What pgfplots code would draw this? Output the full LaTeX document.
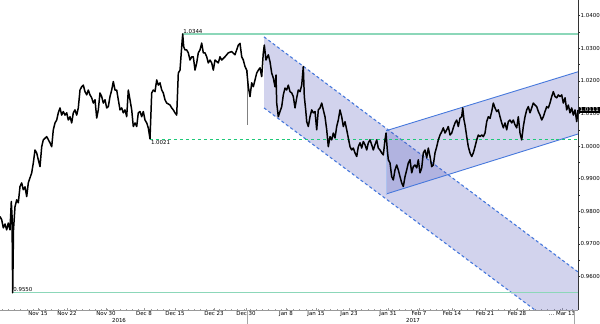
\documentclass[border=0pt]{standalone}
\usepackage{pgfplots}
\pgfplotsset{compat=1.18}
\usepackage{fontspec}
\setmainfont{DejaVu Sans}
\definecolor{mint}{RGB}{140,215,185}
\definecolor{mintd}{RGB}{30,200,120}
\definecolor{chan}{RGB}{70,120,220}
\definecolor{chanfill}{RGB}{82,86,186}
\newcommand\tf{\fontsize{5.5}{6}\selectfont}
\begin{document}
\begin{tikzpicture}[x=1bp,y=1bp]
\begin{axis}[
  scale only axis, width=578bp, height=310bp,
  at={(0,0)}, anchor=south west,
  xmin=0, xmax=578, ymin=0.9497, ymax=1.0448,
  clip=false,
  axis x line*=bottom, axis y line*=right,
  x axis line style={gray!80, line width=0.5pt},
  y axis line style={black!80, line width=0.7pt},
  xtick align=inside, ytick align=outside,
  major tick length=2pt, minor tick length=1.5pt,
  xtick style={gray!80, line width=0.4pt},
  ytick style={black!80, line width=0.4pt},
  xtick={38,67,106,144,175,214,246,286,316,349,388,419,452,485,517,562},
  xticklabels={Nov 15,Nov 22,Nov 30,Dec 8,Dec 15,Dec 23,Dec 30,Jan 8,Jan 15,Jan 23,Jan 31,Feb 7,Feb 14,Feb 21,Feb 28,{\dots\ Mar 13}},
  minor xtick={2,8.2,...,578},
  xticklabel style={font=\tf, inner sep=0.5pt, yshift=-0.5bp},
  ytick={0.96,0.97,0.98,0.99,1.00,1.01,1.02,1.03,1.04},
  minor y tick num=1,
  yticklabel style={font=\tf, inner sep=0.5pt,
    /pgf/number format/.cd, fixed, fixed zerofill, precision=4, assume math mode=true},
  scaled y ticks=false,
]
% descending channel
\addplot[draw=none, fill=chanfill, fill opacity=0.26] coordinates {
 (264,1.0335) (578,0.9614) (578,0.9497) (535,0.9497) (264,1.0117)} -- cycle;
\addplot[draw=chan, line width=1.1pt, dash pattern=on 3pt off 2.5pt] coordinates {(264,1.0335) (578,0.9614)};
\addplot[draw=chan, line width=1.1pt, dash pattern=on 3pt off 2.5pt] coordinates {(264,1.0117) (535,0.9497)};
% ascending channel
\addplot[draw=none, fill=chanfill, fill opacity=0.26] coordinates {
 (386,1.0047) (578,1.0228) (578,1.0037) (386,0.9853)} -- cycle;
\addplot[draw=chan, line width=0.9pt] coordinates {(386,1.0047) (578,1.0228)};
\addplot[draw=chan, line width=0.9pt] coordinates {(386,0.9853) (578,1.0037)};
\addplot[draw=chan!45, line width=0.4pt] coordinates {(386,0.9853) (386,1.0047)};
% horizontal levels
\addplot[draw=mint, line width=1.2pt] coordinates {(183,1.0344) (578,1.0344)};
\addplot[draw=mint, line width=1.2pt] coordinates {(12.5,0.9550) (578,0.9550)};
\addplot[draw=mintd, line width=1.3pt, dash pattern=on 3pt off 3pt] coordinates {(150,1.0021) (578,1.0021)};
% spike
\addplot[draw=gray, line width=0.5pt] coordinates {(247.5,1.0233) (247.5,1.0065)};
% price
\addplot[draw=black, line width=1.5pt, line join=round] coordinates {
(0,0.9784)(1.7,0.9774)(3.3,0.9749)(5,0.9761)(6.7,0.9743)(8.3,0.9764)(10,0.9743)
(11.3,0.9830)(12,0.9789)(12.7,0.9550)(13.5,0.9743)(15,0.9814)(16.7,0.9835)(18.3,0.9826)
(20,0.9876)(21.7,0.9887)(23.3,0.9866)(25,0.9875)(26.7,0.9845)(28.3,0.9887)(31.7,0.9918)
(33.3,0.9948)(35,0.9988)(36.7,0.9979)(38.3,0.9958)(40,0.9937)(41.7,0.9998)(43.3,1.0019)
(46.7,1.0029)(50,1.0010)(51.7,0.9998)(53.3,1.0050)(55,1.0071)(56.7,1.0080)(58.3,1.0102)
(60,1.0117)(61.7,1.0095)(63.3,1.0106)(65,1.0095)(66.7,1.0102)(68.3,1.0080)(70,1.0090)
(71.7,1.0071)(73.3,1.0102)(75,1.0111)(76.7,1.0095)(78.3,1.0117)(80,1.0172)(81.7,1.0182)
(83.3,1.0187)(85,1.0167)(86.7,1.0157)(88.3,1.0172)(90,1.0157)(91.7,1.0148)(93.3,1.0132)
(95,1.0142)(96.7,1.0086)(98.3,1.0111)(100,1.0163)(101.7,1.0152)(103.3,1.0132)(105,1.0142)
(106.7,1.0117)(108.3,1.0121)(110,1.0152)(111.7,1.0172)(113.3,1.0198)(115,1.0172)(116.7,1.0172)
(118.3,1.0142)(120,1.0111)(121.7,1.0117)(123.3,1.0102)(125,1.0111)(126.7,1.0090)(128.3,1.0172)
(130,1.0142)(131.7,1.0111)(133.3,1.0060)(135,1.0071)(136.7,1.0060)(138.3,1.0102)(140,1.0106)
(141.7,1.0090)(143.3,1.0106)(145,1.0080)(146.7,1.0071)(148.3,1.0056)(150,1.0022)(151.7,1.0163)
(153.3,1.0172)(155,1.0167)(156.7,1.0203)(158.3,1.0187)(160,1.0194)(161.7,1.0172)(163.3,1.0163)
(165,1.0142)(166.7,1.0132)(170,1.0126)(171.7,1.0117)(173.3,1.0111)(175,1.0102)(176.7,1.0095)
(178.3,1.0224)(180,1.0233)(181.7,1.0305)(182.7,1.0344)(183.7,1.0305)(185,1.0295)(186.7,1.0295)
(188.3,1.0286)(190,1.0264)(191.7,1.0274)(193.3,1.0274)(195,1.0233)(196.7,1.0255)(198.3,1.0286)
(200,1.0295)(201.7,1.0316)(203.3,1.0286)(205,1.0286)(206.7,1.0274)(208.3,1.0255)(210,1.0264)
(211.7,1.0255)(213.3,1.0233)(215,1.0264)(218.3,1.0255)(220,1.0274)(221.7,1.0264)(225,1.0274)
(228.3,1.0286)(231.7,1.0290)(235,1.0280)(238.3,1.0310)(240,1.0315)(241.7,1.0274)(243.3,1.0264)
(245,1.0244)(246.7,1.0233)(248.3,1.0182)(250,1.0152)(251.7,1.0194)(253.3,1.0182)(255,1.0203)
(256.7,1.0224)(258.3,1.0233)(260,1.0240)(261.7,1.0213)(263.3,1.0286)(264.3,1.0310)(266,1.0264)
(268.3,1.0280)(270,1.0259)(271.7,1.0224)(273.3,1.0209)(275,1.0182)(276,1.0218)(276.7,1.0132)
(278.3,1.0090)(280,1.0106)(281.7,1.0121)(283.3,1.0157)(285,1.0178)(286.7,1.0172)(288.3,1.0187)
(290,1.0167)(291.7,1.0163)(293.3,1.0152)(295,1.0117)(296.7,1.0148)(298.3,1.0172)(300,1.0167)
(301.7,1.0187)(303.3,1.0244)(304.3,1.0152)(305.7,1.0111)(306.7,1.0075)(308.3,1.0060)(310,1.0090)
(311.7,1.0111)(313.3,1.0102)(315,1.0106)(316.7,1.0050)(318.3,1.0111)(320,1.0117)(321.7,1.0132)
(323.3,1.0111)(325,1.0090)(326.7,1.0050)(328.3,0.9998)(330,1.0029)(331.7,1.0019)(333.3,1.0040)
(335,1.0025)(336.7,1.0060)(338.3,1.0080)(340,1.0111)(341.7,1.0090)(343.3,1.0060)(345,1.0075)
(346.7,1.0050)(348.3,1.0025)(350,0.9998)(351.7,0.9988)(353.3,0.9994)(355,0.9979)(356.7,0.9968)
(358.3,0.9998)(360,1.0010)(361.7,0.9994)(363.3,1.0014)(365,1.0004)(366.7,0.9988)(368.3,1.0010)
(370,1.0019)(371.7,1.0004)(373.3,0.9988)(375,1.0004)(376.7,1.0019)(378.3,0.9994)(380,0.9988)
(381.7,0.9979)(383.3,0.9973)(385,1.0019)(386,1.0040)(387.3,0.9988)(388.3,0.9958)(390,0.9948)
(391.7,0.9906)(393.3,0.9896)(395,0.9927)(396.7,0.9942)(398.3,0.9927)(400,0.9906)(401.7,0.9887)
(403.3,0.9876)(405,0.9906)(406.7,0.9927)(408.3,0.9948)(410,0.9958)(411.7,0.9918)(413.3,0.9937)
(415,0.9942)(416.7,0.9933)(418.3,0.9958)(420,0.9918)(421.7,0.9933)(423.3,0.9979)(425,0.9988)
(426.7,0.9964)(428.3,0.9994)(430,0.9968)(431.7,0.9937)(433.3,0.9942)(435,0.9979)(436.7,0.9998)
(438.3,1.0019)(440,1.0034)(441.7,1.0044)(443.3,1.0056)(445,1.0040)(446.7,1.0050)(448.3,1.0060)
(450,1.0034)(451.7,1.0040)(453.3,1.0056)(455,1.0071)(456.7,1.0080)(458.3,1.0060)(460,1.0086)
(461.7,1.0090)(462.7,1.0117)(464,1.0080)(465,1.0065)(466.7,1.0029)(468.3,0.9998)(470,0.9979)
(471.7,0.9968)(473.3,0.9979)(475,0.9998)(476.7,1.0019)(478.3,1.0034)(480,1.0029)(481.7,1.0034)
(483.3,1.0029)(485,1.0040)(486.7,1.0075)(488.3,1.0090)(490,1.0085)(491.7,1.0106)(493.3,1.0132)
(495,1.0117)(496.7,1.0106)(498.3,1.0111)(500,1.0090)(501.7,1.0071)(503.3,1.0056)(505,1.0071)
(506.7,1.0050)(508.3,1.0075)(510,1.0080)(511.7,1.0071)(513.3,1.0080)(515,1.0065)(516.7,1.0056)
(518.3,1.0090)(520,1.0040)(521.7,1.0019)(523.3,1.0060)(525,1.0090)(526.7,1.0111)(528.3,1.0121)
(530,1.0102)(531.7,1.0117)(533.3,1.0132)(535,1.0126)(536.7,1.0121)(538.3,1.0106)(540,1.0095)
(541.7,1.0080)(543.3,1.0090)(545,1.0106)(546.7,1.0121)(548.3,1.0117)(550,1.0132)(551.7,1.0152)
(553.3,1.0167)(555,1.0152)(556.7,1.0148)(558.3,1.0157)(560,1.0152)(561.7,1.0157)(563.3,1.0132)
(565,1.0148)(566.7,1.0111)(568.3,1.0126)(570,1.0102)(571.7,1.0117)(573.3,1.0095)(575,1.0111)
(576.7,1.0075)(578,1.0111)};
% annotations
\node[font=\tf, anchor=south west, inner sep=0.6pt] at (axis cs:182.5,1.0344) {1.0344};
\node[font=\tf, anchor=north west, inner sep=0.8pt] at (axis cs:150,1.0021) {1.0021};
\node[font=\tf, anchor=south west, inner sep=0.6pt] at (axis cs:12.5,0.9550) {0.9550};
\node[font=\tf, fill=black, text=white, anchor=west, inner sep=1pt, xshift=0.5bp] at (axis cs:578,1.0111) {1.0111};
\node[font=\tf] at (axis cs:119,0.9497) [yshift=-10bp] {2016};
\node[font=\tf] at (axis cs:413,0.9497) [yshift=-10bp] {2017};
\draw[gray!70, line width=0.4pt] (axis cs:247,0.9497) -- ++(0,-13bp);
\draw[gray!70, line width=0.4pt] (axis cs:574,0.9497) -- ++(0,-13bp);
\end{axis}
\pgfresetboundingbox
\path[use as bounding box] (0,-13) rectangle (600,310);
\end{tikzpicture}
\end{document}
